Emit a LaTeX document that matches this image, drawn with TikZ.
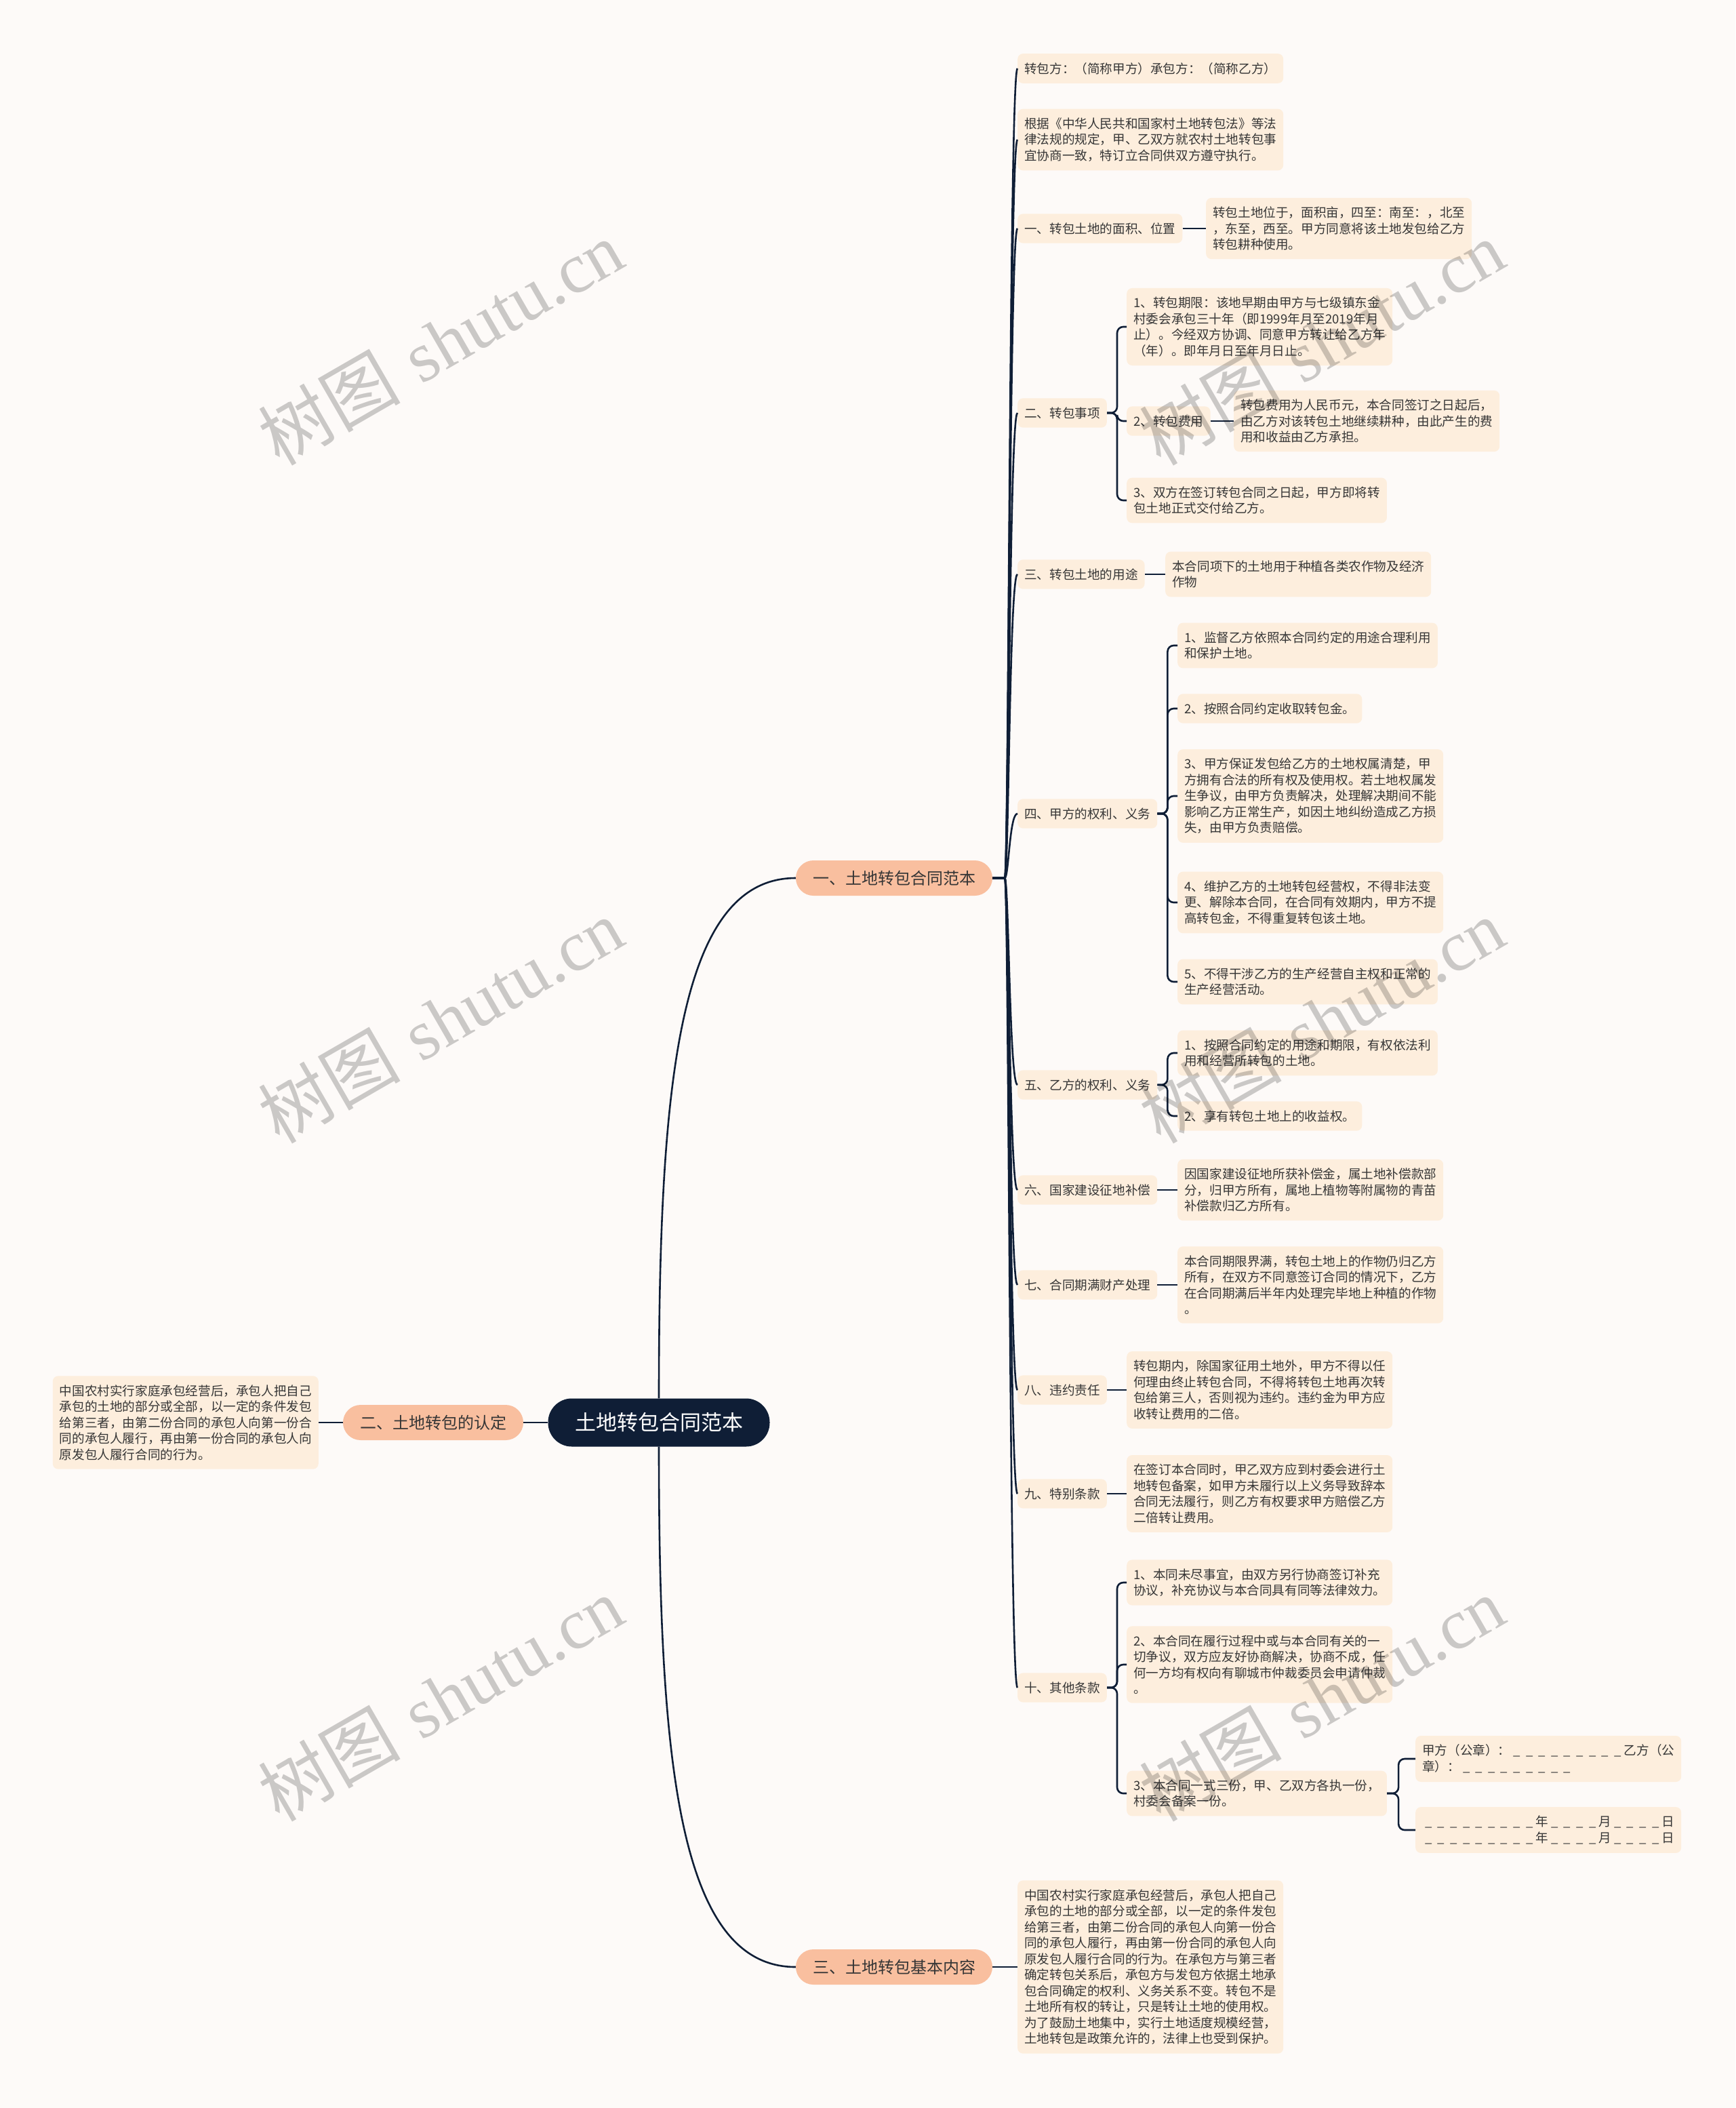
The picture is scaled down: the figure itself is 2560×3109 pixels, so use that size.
\documentclass[tikz,border=0pt]{standalone}
\usepackage{fontspec}
\newfontfamily\cjk{Noto Sans CJK SC}
\newfontfamily\wmserif{Liberation Serif}
\definecolor{pagebg}{HTML}{FDFAF8}
\definecolor{rootfill}{HTML}{0F1E36}
\definecolor{topicfill}{HTML}{F9BF9F}
\definecolor{leaffill}{HTML}{FDEEDD}
\definecolor{linkc}{HTML}{0F1E36}
\definecolor{txt}{HTML}{363636}
\newcommand\blankmark{\makebox[1em]{\_}}
\newcommand\blankrun[1]{\foreach \n in {1,...,#1}{\blankmark}}
\tikzset{
  rootbox/.style={rectangle, rounded corners=35pt, fill=rootfill, text=white,
    font=\cjk\fontsize{31}{36}\selectfont, minimum height=71pt, minimum width=327pt},
  topic/.style={rectangle, rounded corners=26pt, fill=topicfill, text=txt,
    font=\cjk\fontsize{24}{28}\selectfont, minimum height=52pt, inner xsep=25pt},
  leaf/.style={rectangle, rounded corners=8pt, fill=leaffill, text=txt, anchor=west,
    font=\cjk\fontsize{18.6}{23.5}\selectfont, align=left, inner xsep=10pt, inner ysep=13pt},
  link/.style={draw=linkc, line width=2.6pt},
  bracket/.style={link, rounded corners=9pt},
  wmark/.style={rotate=30, text=black, opacity=0.2, font=\fontsize{105}{110}\selectfont}
}
\begin{document}
\begin{tikzpicture}[x=1pt, y=-1pt]
    \fill[pagebg] (0,0) rectangle (2560,3109);
    \useasboundingbox (0,0) rectangle (2560,3109);

    \node[rootbox] (root) at (972,2098) {土地转包合同范本};
    \node[topic] (sample) at (1319,1295) {一、土地转包合同范本};
    \node[topic] (define) at (639,2098) {二、土地转包的认定};
    \node[topic] (basics) at (1319,2901) {三、土地转包基本内容};

    \node[leaf, anchor=east] (defineText) at (470,2098) {中国农村实行家庭承包经营后，承包人把自己\\承包的土地的部分或全部，以一定的条件发包\\给第三者，由第二份合同的承包人向第一份合\\同的承包人履行，再由第一份合同的承包人向\\原发包人履行合同的行为。};
    \node[leaf] (basicsText) at (1501,2901) {中国农村实行家庭承包经营后，承包人把自己\\承包的土地的部分或全部，以一定的条件发包\\给第三者，由第二份合同的承包人向第一份合\\同的承包人履行，再由第一份合同的承包人向\\原发包人履行合同的行为。在承包方与第三者\\确定转包关系后，承包方与发包方依据土地承\\包合同确定的权利、义务关系不变。转包不是\\土地所有权的转让，只是转让土地的使用权。\\为了鼓励土地集中，实行土地适度规模经营，\\土地转包是政策允许的，法律上也受到保护。};

    \node[leaf] (parties) at (1501,101) {转包方：（简称甲方）承包方：（简称乙方）};
    \node[leaf] (basis) at (1501,206) {根据《中华人民共和国家村土地转包法》等法\\律法规的规定，甲、乙双方就农村土地转包事\\宜协商一致，特订立合同供双方遵守执行。};
    \node[leaf] (area) at (1501,337) {一、转包土地的面积、位置};
    \node[leaf] (matters) at (1501,609) {二、转包事项};
    \node[leaf] (usage) at (1501,847) {三、转包土地的用途};
    \node[leaf] (rightsA) at (1501,1200) {四、甲方的权利、义务};
    \node[leaf] (rightsB) at (1501,1600) {五、乙方的权利、义务};
    \node[leaf] (compensation) at (1501,1755) {六、国家建设征地补偿};
    \node[leaf] (expiry) at (1501,1895) {七、合同期满财产处理};
    \node[leaf] (breach) at (1501,2050) {八、违约责任};
    \node[leaf] (special) at (1501,2203) {九、特别条款};
    \node[leaf] (other) at (1501,2489) {十、其他条款};

    \node[leaf] (areaText) at (1779,337) {转包土地位于，面积亩，四至：南至：，北至\\，东至，西至。甲方同意将该土地发包给乙方\\转包耕种使用。};
    \node[leaf] (matters1) at (1662,482) {1、转包期限：该地早期由甲方与七级镇东金\\村委会承包三十年（即1999年月至2019年月\\止）。今经双方协调、同意甲方转让给乙方年\\（年）。即年月日至年月日止。};
    \node[leaf] (matters2) at (1662,621) {2、转包费用};
    \node[leaf] (fee) at (1820,621) {转包费用为人民币元，本合同签订之日起后，\\由乙方对该转包土地继续耕种，由此产生的费\\用和收益由乙方承担。};
    \node[leaf] (matters3) at (1662,738) {3、双方在签订转包合同之日起，甲方即将转\\包土地正式交付给乙方。};
    \node[leaf] (usageText) at (1719,847) {本合同项下的土地用于种植各类农作物及经济\\作物};
    \node[leaf] (rightsA1) at (1737,952) {1、监督乙方依照本合同约定的用途合理利用\\和保护土地。};
    \node[leaf] (rightsA2) at (1737,1045) {2、按照合同约定收取转包金。};
    \node[leaf] (rightsA3) at (1737,1174) {3、甲方保证发包给乙方的土地权属清楚，甲\\方拥有合法的所有权及使用权。若土地权属发\\生争议，由甲方负责解决，处理解决期间不能\\影响乙方正常生产，如因土地纠纷造成乙方损\\失，由甲方负责赔偿。};
    \node[leaf] (rightsA4) at (1737,1331) {4、维护乙方的土地转包经营权，不得非法变\\更、解除本合同，在合同有效期内，甲方不提\\高转包金，不得重复转包该土地。};
    \node[leaf] (rightsA5) at (1737,1448) {5、不得干涉乙方的生产经营自主权和正常的\\生产经营活动。};
    \node[leaf] (rightsB1) at (1737,1553) {1、按照合同约定的用途和期限，有权依法利\\用和经营所转包的土地。};
    \node[leaf] (rightsB2) at (1737,1646) {2、享有转包土地上的收益权。};
    \node[leaf] (compensationText) at (1737,1755) {因国家建设征地所获补偿金，属土地补偿款部\\分，归甲方所有，属地上植物等附属物的青苗\\补偿款归乙方所有。};
    \node[leaf] (expiryText) at (1737,1895) {本合同期限界满，转包土地上的作物仍归乙方\\所有，在双方不同意签订合同的情况下，乙方\\在合同期满后半年内处理完毕地上种植的作物\\。};
    \node[leaf] (breachText) at (1662,2050) {转包期内，除国家征用土地外，甲方不得以任\\何理由终止转包合同，不得将转包土地再次转\\包给第三人，否则视为违约。违约金为甲方应\\收转让费用的二倍。};
    \node[leaf] (specialText) at (1662,2203) {在签订本合同时，甲乙双方应到村委会进行土\\地转包备案，如甲方未履行以上义务导致辞本\\合同无法履行，则乙方有权要求甲方赔偿乙方\\二倍转让费用。};
    \node[leaf] (other1) at (1662,2334) {1、本同未尽事宜，由双方另行协商签订补充\\协议，补充协议与本合同具有同等法律效力。};
    \node[leaf] (other2) at (1662,2455) {2、本合同在履行过程中或与本合同有关的一\\切争议，双方应友好协商解决，协商不成，任\\何一方均有权向有聊城市仲裁委员会申请仲裁\\。};
    \node[leaf] (other3) at (1662,2645) {3、本合同一式三份，甲、乙双方各执一份，\\村委会备案一份。};
    \node[leaf] (seal) at (2088,2594) {甲方（公章）：\blankrun{9}乙方（公\\章）：\blankrun{9}};
    \node[leaf] (dates) at (2088,2699) {\blankrun{9}年\blankrun{4}月\blankrun{4}日\\\blankrun{9}年\blankrun{4}月\blankrun{4}日};

    \draw[link] (root.north) .. controls +(0,-460) and +(-174,0) .. (sample.west);
    \draw[link] (root.south) .. controls +(0,460) and +(-174,0) .. (basics.west);
    \draw[link] (root.west) -- (define.east);
    \draw[link] (define.west) -- (defineText.east);
    \draw[link] (basics.east) -- (basicsText.west);

    \foreach \k in {parties,basis,area,matters,usage,rightsA,rightsB,compensation,expiry,breach,special,other}
        \draw[link] (sample.east) -- ++(18,0) .. controls +(6,0) and +(-12,0) .. (\k.west);

    \draw[link] (area.east) -- (areaText.west);
    \foreach \k in {matters1,matters2,matters3}
        \draw[bracket] (matters.east) -- ++(15,0) |- (\k.west);
    \draw[link] (matters2.east) -- (fee.west);
    \draw[link] (usage.east) -- (usageText.west);
    \foreach \k in {rightsA1,rightsA2,rightsA3,rightsA4,rightsA5}
        \draw[bracket] (rightsA.east) -- ++(15,0) |- (\k.west);
    \foreach \k in {rightsB1,rightsB2}
        \draw[bracket] (rightsB.east) -- ++(15,0) |- (\k.west);
    \draw[link] (compensation.east) -- (compensationText.west);
    \draw[link] (expiry.east) -- (expiryText.west);
    \draw[link] (breach.east) -- (breachText.west);
    \draw[link] (special.east) -- (specialText.west);
    \foreach \k in {other1,other2,other3}
        \draw[bracket] (other.east) -- ++(15,0) |- (\k.west);
    \foreach \k in {seal,dates}
        \draw[bracket] (other3.east) -- ++(17,0) |- (\k.west);

    \foreach \x in {650,1950}
        \foreach \y in {505,1505,2505}
            \node[wmark] at (\x,\y) {{\cjk 树图} {\wmserif shutu.cn}};
\end{tikzpicture}
\end{document}
